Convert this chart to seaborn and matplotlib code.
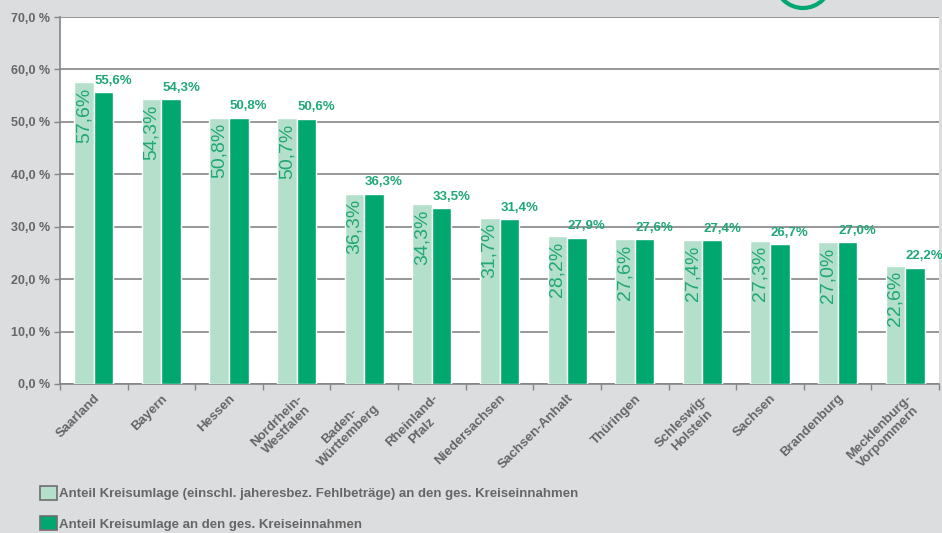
import matplotlib.pyplot as plt
import matplotlib.patches as mpatches
import pandas as pd
import seaborn as sns

# Data
laender = ["Saarland", "Bayern", "Hessen", "Nordrhein-\nWestfalen", "Baden-\nWürttemberg",
           "Rheinland-\nPfalz", "Niedersachsen", "Sachsen-Anhalt", "Thüringen",
           "Schleswig-\nHolstein", "Sachsen", "Brandenburg", "Mecklenburg-\nVorpommern"]
anteil_inkl = [57.6, 54.3, 50.8, 50.7, 36.3, 34.3, 31.7, 28.2, 27.6, 27.4, 27.3, 27.0, 22.6]
anteil = [55.6, 54.3, 50.8, 50.6, 36.3, 33.5, 31.4, 27.9, 27.6, 27.4, 26.7, 27.0, 22.2]
series = ["Anteil Kreisumlage (einschl. jaheresbez. Fehlbeträge) an den ges. Kreiseinnahmen",
          "Anteil Kreisumlage an den ges. Kreiseinnahmen"]
yticks = [0, 10, 20, 30, 40, 50, 60, 70]

light = "#b4dfcb"
dark = "#00a870"
txt_green = "#1fa876"
gray = "#666666"
bg = "#dcdddf"

df = pd.DataFrame({
    "land": laender * 2,
    "wert": anteil_inkl + anteil,
    "serie": [series[0]] * len(laender) + [series[1]] * len(laender),
})

sns.set_style("white")
plt.rcParams["font.family"] = ["Liberation Sans", "DejaVu Sans"]

fig = plt.figure(figsize=(9.42, 5.33), dpi=100, facecolor=bg)
ax = fig.add_axes([60 / 942, 1 - 384 / 533, 879 / 942, 367 / 533])

sns.barplot(data=df, x="land", y="wert", hue="serie", palette=[light, dark],
            width=0.58, saturation=1, ax=ax, legend=False, zorder=3)

ax.set_ylim(0, 70)
ax.set_xlim(-0.5, len(laender) - 0.5)
ax.set_yticks(yticks)
ax.set_yticklabels([f"{v:.1f}".replace(".", ",") + " %" for v in yticks],
                   fontsize=9, fontweight="bold", color=gray)
ax.yaxis.grid(True, color="#858585", linewidth=1.2, zorder=0)
ax.set_axisbelow(True)
ax.tick_params(axis="y", length=4, color="#858585", width=1, pad=3, left=True)

ax.set_xticks(range(len(laender)))
ax.set_xticklabels(laender, rotation=45, ha="right", rotation_mode="anchor",
                   fontsize=9.5, fontweight="bold", color=gray, multialignment="center")
ax.tick_params(axis="x", length=0, pad=6)
ax.set_xticks([i - 0.5 for i in range(len(laender) + 1)], minor=True)
ax.tick_params(axis="x", which="minor", length=4, color="#858585", width=1, bottom=True)
ax.set_xlabel("")
ax.set_ylabel("")

for side in ["top", "right"]:
    ax.spines[side].set_visible(False)
for side in ["left", "bottom"]:
    ax.spines[side].set_color("#858585")
    ax.spines[side].set_linewidth(1.2)

# value labels
bars_light = ax.containers[0]
bars_dark = ax.containers[1]
for b, v in zip(bars_light, anteil_inkl):
    ax.text(b.get_x() + b.get_width() / 2, v - 1.0, f"{v:.1f}%".replace(".", ","),
            rotation=90, ha="center", va="top", fontsize=14, color=txt_green, zorder=5)
for b, v in zip(bars_dark, anteil):
    ax.text(b.get_x() + 0.01, v + 1.0, f"{v:.1f}%".replace(".", ","),
            ha="left", va="bottom", fontsize=9.5, fontweight="bold", color=txt_green,
            zorder=5, clip_on=False)

# legend
handles = [mpatches.Patch(facecolor=c, edgecolor="#6e6e6e", linewidth=1.2) for c in [light, dark]]
leg = fig.legend(handles, series, loc="upper left", bbox_to_anchor=(33 / 942, 1 - 479 / 533),
                 frameon=False, fontsize=9.5, handlelength=1.3, handleheight=1.3,
                 handletextpad=0.2, labelspacing=1.2, borderpad=0)
for t in leg.get_texts():
    t.set_fontweight("bold")
    t.set_color(gray)

# partial logo ring at the top edge
ring = mpatches.Ellipse((803 / 942, 1 + 20 / 533), 56 / 942, 56 / 533, transform=fig.transFigure,
                        fill=False, edgecolor=dark, linewidth=3, clip_on=False)
fig.patches.append(ring)

fig.savefig("out.png", dpi=100, facecolor=bg)
